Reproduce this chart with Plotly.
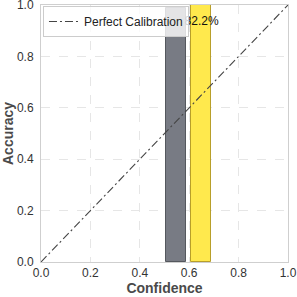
import plotly.graph_objects as go

bin_centers = [0.548, 0.648]
bin_heights = [0.988, 1.0]
bar_colors = ["#787b84", "#ffe94d"]
edge_colors = ["#55585e", "#b89f2a"]
bar_width = 0.082
label_text = ["82.2%"]
label_x = [0.65]
label_y = [0.935]
diag = [0.0, 1.0]
ticks = [0.0, 0.2, 0.4, 0.6, 0.8, 1.0]
tick_text = ["0.0", "0.2", "0.4", "0.6", "0.8", "1.0"]

fig = go.Figure()
fig.add_trace(go.Bar(x=bin_centers, y=bin_heights, width=bar_width,
                     marker=dict(color=bar_colors, line=dict(color=edge_colors, width=1)),
                     showlegend=False, hoverinfo="skip"))
fig.add_trace(go.Scatter(x=label_x, y=label_y, mode="text", text=label_text,
                         textfont=dict(family="Liberation Sans", size=12, color="#111"),
                         showlegend=False, cliponaxis=False))
fig.add_trace(go.Scatter(x=diag, y=diag, mode="lines", name="Perfect Calibration",
                         line=dict(color="#444", width=1.1, dash="8px,3px,2px,3px")))

axis_common = dict(range=[0, 1], tickvals=ticks, ticktext=tick_text, automargin=False,
                   showgrid=True, gridcolor="#e6e6e6", griddash="dash", gridwidth=1,
                   showline=True, linecolor="#cfcfcf", linewidth=1, mirror=True,
                   zeroline=False, ticks="", ticklabeloverflow="allow",
                   tickfont=dict(family="Liberation Sans", size=12, color="#333"))

fig.update_layout(
    width=297, height=297,
    margin=dict(l=41, r=9, t=5, b=35, autoexpand=False),
    plot_bgcolor="white", paper_bgcolor="white",
    font=dict(family="Liberation Sans"),
    xaxis=dict(**axis_common, ticklabelstandoff=0,
               title=dict(text="<b>Confidence</b>", font=dict(size=14, color="#4a4a4a"), standoff=0)),
    yaxis=dict(**axis_common, ticklabelstandoff=4,
               title=dict(text="<b>Accuracy</b>", font=dict(size=14, color="#4a4a4a"), standoff=6)),
    legend=dict(x=0.008, y=0.996, xanchor="left", yanchor="top",
                bgcolor="rgba(255,255,255,0.8)", bordercolor="#cccccc", borderwidth=1,
                font=dict(size=12, color="#222"), tracegroupgap=0, itemwidth=30),
    bargap=0,
)
fig.write_html("out.html", config={"displayModeBar": False},
               post_script="document.body.style.margin='0';document.body.style.overflow='hidden';")
